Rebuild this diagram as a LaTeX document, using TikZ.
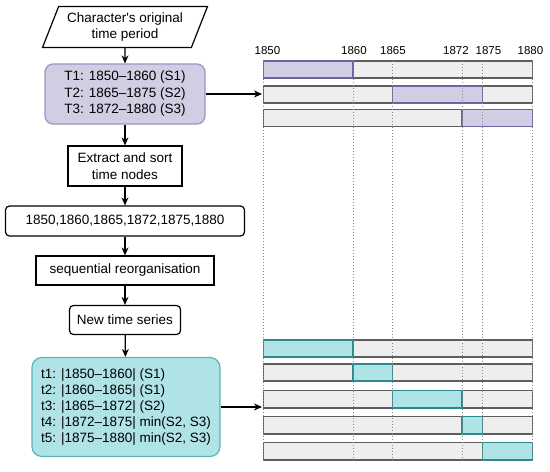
\documentclass[tikz,border=0pt]{standalone}
\usepackage{fontspec}
\setmainfont{Liberation Sans}
\usetikzlibrary{arrows.meta,shapes.geometric,positioning}

\definecolor{purplefill}{HTML}{D0CEE2}
\definecolor{purpleline}{HTML}{9A94C4}
\definecolor{purplebar}{HTML}{6B64A0}
\definecolor{cyanfill}{HTML}{B0E3E6}
\definecolor{cyanline}{HTML}{5BB4B9}
\definecolor{cyanbar}{HTML}{2A8A90}
\definecolor{barfill}{HTML}{EEEEEE}
\definecolor{barline}{HTML}{5E5E5E}
\definecolor{tickgray}{HTML}{8A8A8A}

\tikzset{
  box/.style={draw, line width=1.2pt, minimum height=29pt, inner sep=2pt,
    align=center, font=\fontsize{13.5}{16.5}\selectfont},
  rbox/.style={box, rounded corners=4pt},
  bar/.style={draw=barline, fill=barfill, line width=1.5pt},
  pbar/.style={draw=purplebar, fill=purplefill, line width=1.5pt},
  cbar/.style={draw=cyanbar, fill=cyanfill, line width=1.5pt},
  tick/.style={draw=tickgray, line width=1pt, dotted},
  yearlabel/.style={font=\fontsize{11.5}{12}\selectfont, inner sep=1pt}
}

\begin{document}
\begin{tikzpicture}[x=1pt, y=-1pt, >={Stealth[length=8pt,width=7pt]}]
  \useasboundingbox (0,0) rectangle (550,472);

  % flow chart on the left
  \node[box, trapezium, trapezium left angle=64, trapezium right angle=116,
        trapezium stretches body, minimum width=165pt, minimum height=41pt]
        (orig) at (125,27) {Character\textquotesingle s original\\time period};
  \node[rbox, fill=purplefill, draw=purpleline, rounded corners=8pt,
        minimum width=160pt, minimum height=60pt] (periods) at (125,94)
        {T1: 1850--1860 (S1)\\T2: 1865--1875 (S2)\\T3: 1872--1880 (S3)};
  \node[box, minimum width=114pt, minimum height=40pt] (extract) at (125,166)
        {Extract and sort\\time nodes};
  \node[rbox, minimum width=239pt, minimum height=30pt] (nodes) at (125,221)
        {1850,1860,1865,1872,1875,1880};
  \node[box, minimum width=178pt] (reorg) at (125,270.5)
        {sequential reorganisation};
  \node[rbox, minimum width=111pt] (series) at (125,320) {New time series};
  \node[rbox, fill=cyanfill, draw=cyanline, rounded corners=10pt,
        minimum width=188pt, minimum height=99pt, align=left,
        font=\fontsize{13.5}{15.8}\selectfont] (slices) at (126,407)
        {t1: |1850--1860| (S1)\\t2: |1860--1865| (S1)\\t3: |1865--1872| (S2)\\%
         t4: |1872--1875| min(S2, S3)\\t5: |1875--1880| min(S2, S3)};

  \coordinate (topbars) at (262,94);
  \coordinate (botbars) at (262,407);

  \path[->, line width=1.2pt]
    (orig) edge (periods)
    (periods) edge (extract)
    (extract) edge (nodes)
    (nodes) edge (reorg)
    (reorg) edge (series)
    (series) edge (slices)
    (periods.east) edge (topbars)
    (slices.east) edge (botbars);

  % time bars on the right
  \foreach \t/\b in {61/78, 86/103, 109.5/126.5,
                     340/357, 364/381, 390.5/408, 416.5/434, 442.5/460}
    \draw[bar] (263.5,\t) rectangle (532.5,\b);
  \foreach \t/\b/\l/\r in {61/78/263.5/353, 86/103/392.5/482.5, 109.5/126.5/462/532.5}
    \draw[pbar] (\l,\t) rectangle (\r,\b);
  \foreach \t/\b/\l/\r in {340/357/263.5/353, 364/381/353/392.5, 390.5/408/392.5/462,
                           416.5/434/462/482.5, 442.5/460/482.5/532.5}
    \draw[cbar] (\l,\t) rectangle (\r,\b);

  \foreach \yr/\xx/\lx in {1850/263.5/267.5, 1860/353/354, 1865/392.5/393,
                           1872/462/456, 1875/482.5/488.5, 1880/532.5/530.5} {
    \draw[tick] (\xx,61) -- (\xx,462);
    \node[yearlabel] (y\yr) at (\lx,51) {\yr};
  }
\end{tikzpicture}
\end{document}
